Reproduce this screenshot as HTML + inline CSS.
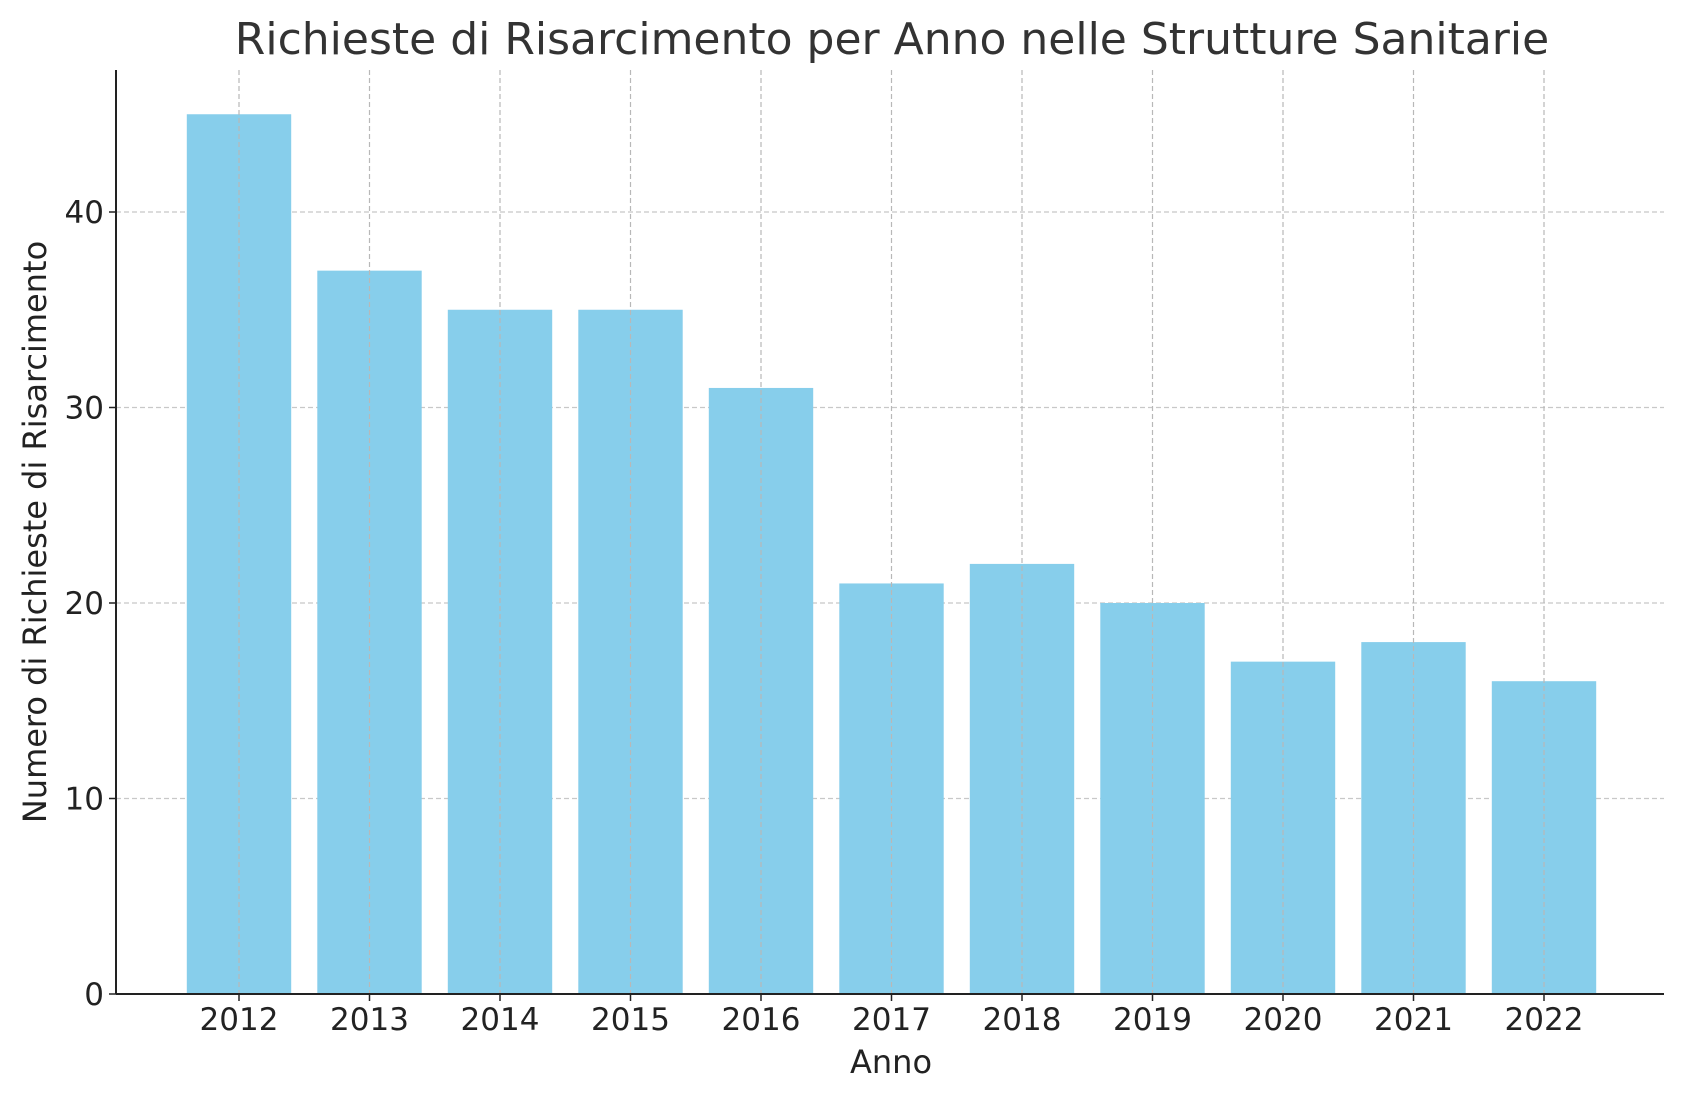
<!DOCTYPE html>
<html><head><meta charset="utf-8"><style>
html,body{margin:0;padding:0;background:#fff}
svg{display:block;font-family:"DejaVu Sans","Liberation Sans",sans-serif}
</style></head><body>
<svg id="chart" width="1686" height="1101">
<text x="892" y="54" font-size="44" text-anchor="middle" fill="#333">Richieste di Risarcimento per Anno nelle Strutture Sanitarie</text>
<text transform="translate(46,532) rotate(-90)" font-size="32" text-anchor="middle" fill="#222">Numero di Richieste di Risarcimento</text>
<text x="891" y="1073" font-size="32" text-anchor="middle" fill="#222">Anno</text>
<g id="grid"></g><g id="bars"></g><g id="axes"></g>
</svg>
<script>
const categories=["2012","2013","2014","2015","2016","2017","2018","2019","2020","2021","2022"];
const values=[45,37,35,35,31,21,22,20,17,18,16];
const yTicks=[0,10,20,30,40];
const L=116,R=1664,T=70,B=994;
const NS="http://www.w3.org/2000/svg";
const y40=212;
const y=v=>B-(B-y40)*v/40;
const step=(1544-239)/10;
const x=i=>239+i*step;
const bw=step*0.8;
const grid=document.getElementById('grid'),bars=document.getElementById('bars'),axes=document.getElementById('axes');
function mk(tag,attrs,parent){const e=document.createElementNS(NS,tag);for(const k in attrs)e.setAttribute(k,attrs[k]);parent.appendChild(e);return e;}
yTicks.forEach(t=>{
 if(t>0){const g=mk('line',{x1:L,x2:R,y1:y(t),y2:y(t),stroke:'#c8c8c8','stroke-width':1.2,'stroke-dasharray':'5,3'},grid);
 
 }
 const tk=mk('line',{x1:L-7,x2:L,y1:y(t),y2:y(t),stroke:'#222','stroke-width':1.5},axes);
 
 
 const lb=mk('text',{x:L-12,y:y(t)+11,'font-size':31,'text-anchor':'end',fill:'#222'},axes);lb.textContent=t;
 
 
});
categories.forEach((c,i)=>{
 const r=mk('rect',{x:x(i)-bw/2,y:y(values[i]),width:bw,height:B-y(values[i]),fill:'#87ceeb'},bars);
 
 
 const g=mk('line',{x1:x(i),x2:x(i),y1:T,y2:B,stroke:'#b8b8b8','stroke-width':1.2,'stroke-dasharray':'5,3'},axes);
 
 
 const tk=mk('line',{x1:x(i),x2:x(i),y1:B,y2:B+7,stroke:'#222','stroke-width':1.5},axes);
 
 
 const lb=mk('text',{x:x(i),y:B+36,'font-size':31,'text-anchor':'middle',fill:'#222'},axes);lb.textContent=c;
 
 
});
const ls=mk('line',{x1:L,x2:L,y1:T,y2:B,stroke:'#222','stroke-width':2},axes);


const bs=mk('line',{x1:L,x2:R,y1:B,y2:B,stroke:'#222','stroke-width':2},axes);


</script>
</body></html>
